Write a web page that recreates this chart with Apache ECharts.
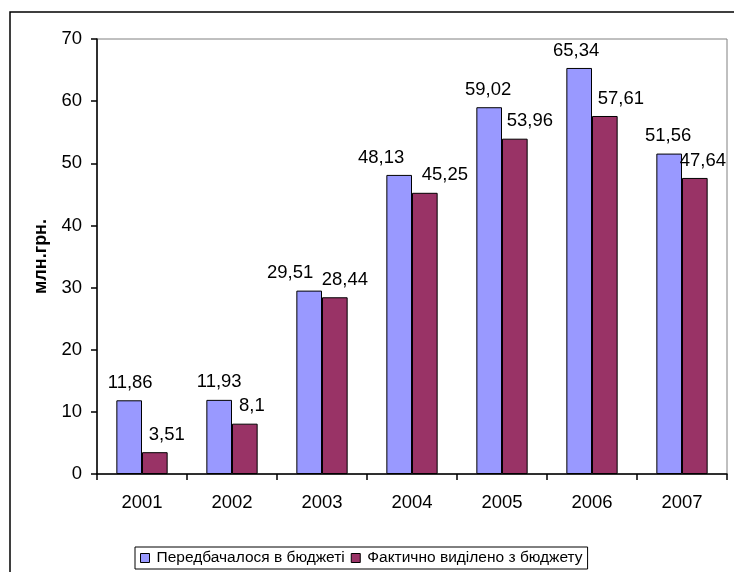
<!DOCTYPE html>
<html>
<head>
<meta charset="utf-8">
<script src="https://cdn.jsdelivr.net/npm/echarts@6/dist/echarts.min.js"></script>
<style>
html,body{margin:0;padding:0;background:#fff;}
#chart{width:734px;height:572px;}
</style>
</head>
<body>
<div id="chart"></div>
<script>
const categories = ['2001','2002','2003','2004','2005','2006','2007'];
const planned = [11.86, 11.93, 29.51, 48.13, 59.02, 65.34, 51.56];
const actual = [3.51, 8.1, 28.44, 45.25, 53.96, 57.61, 47.64];
const seriesNames = ['Передбачалося в бюджеті', 'Фактично виділено з бюджету'];
const yAxisName = 'млн.грн.';

// label nudges (style only), as placed in the original
const plannedLabelDx = [1, 0, -19, -18, -1, -3, -1];
const actualLabelDx = [12, 7, 10, 20, 15, 16, 8];

const font = 'Arial, "Liberation Sans", sans-serif';
const fmt = p => String(p.value).replace('.', ',');
const withLabelDx = (vals, dx) => vals.map((v, i) => ({value: v, label: {offset: [dx[i], 0]}}));

const chart = echarts.init(document.getElementById('chart'), null, {renderer: 'canvas'});
chart.setOption({
  animation: false,
  backgroundColor: '#fff',
  textStyle: {fontFamily: font, color: '#000'},
  graphic: [{
    type: 'rect',
    shape: {x: 10, y: 12, width: 800, height: 700},
    style: {fill: 'none', stroke: '#000', lineWidth: 1.5},
    z: 0
  }],
  grid: {
    left: 97, right: 7, top: 39, bottom: 98,
    show: true, borderColor: '#808080', borderWidth: 1,
    containLabel: false
  },
  legend: {
    data: seriesNames,
    left: 135, top: 547,
    itemWidth: 9, itemHeight: 9, itemGap: 6,
    icon: 'rect',
    padding: [3, 5, 3, 5],
    borderColor: '#000', borderWidth: 1,
    backgroundColor: '#fff',
    textStyle: {fontFamily: font, fontSize: 15.5, color: '#000', padding: [0, 0, 0, 2]},
    itemStyle: {borderColor: '#000', borderWidth: 1}
  },
  xAxis: {
    type: 'category',
    data: categories,
    axisLine: {lineStyle: {color: '#000', width: 1.5}},
    axisTick: {show: true, length: 6, lineStyle: {color: '#000', width: 1.5}},
    axisLabel: {fontFamily: font, fontSize: 18.5, color: '#000', margin: 19},
    splitLine: {show: false}
  },
  yAxis: {
    type: 'value',
    min: 0, max: 70, interval: 10,
    name: yAxisName,
    nameLocation: 'middle',
    nameGap: 46,
    nameRotate: 90,
    nameTextStyle: {fontFamily: font, fontSize: 18, fontWeight: 'bold', color: '#000'},
    axisLine: {show: true, lineStyle: {color: '#000', width: 1.5}},
    axisTick: {show: true, length: 6, lineStyle: {color: '#000', width: 1.5}},
    axisLabel: {fontFamily: font, fontSize: 18.5, color: '#000', margin: 15},
    splitLine: {show: false}
  },
  series: [
    {
      name: seriesNames[0],
      type: 'bar',
      data: withLabelDx(planned, plannedLabelDx),
      barGap: '0%',
      barCategoryGap: '43%',
      itemStyle: {color: '#9999FF', borderColor: '#000', borderWidth: 1},
      label: {show: true, position: 'top', distance: 8, formatter: fmt,
        fontFamily: font, fontSize: 18.5, color: '#000'}
    },
    {
      name: seriesNames[1],
      type: 'bar',
      data: withLabelDx(actual, actualLabelDx),
      itemStyle: {color: '#993366', borderColor: '#000', borderWidth: 1},
      label: {show: true, position: 'top', distance: 8, formatter: fmt,
        fontFamily: font, fontSize: 18.5, color: '#000'}
    }
  ]
});
</script>
</body>
</html>
